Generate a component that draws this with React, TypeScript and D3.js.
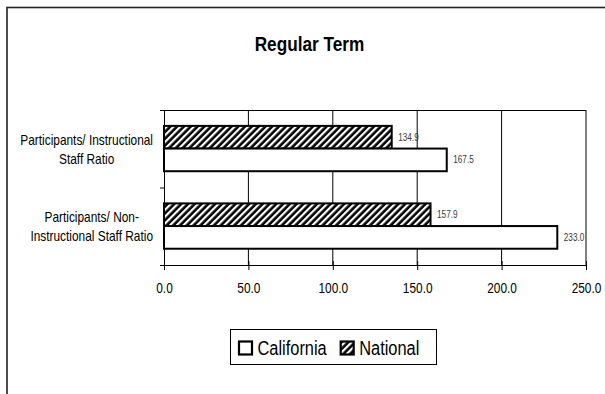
import React, { useEffect, useRef } from 'react';
import * as d3 from 'd3';

const categories = ['Instructional', 'Non-Instructional'];
const categoryLines = [
  ['Participants/ Instructional', 'Staff Ratio'],
  ['Participants/ Non-', 'Instructional Staff Ratio'],
];
const seriesNames = ['California', 'National'];
const californiaValues = [167.5, 233.0];
const nationalValues = [134.9, 157.9];
const xTicks = [0, 50, 100, 150, 200, 250];
const title = 'Regular Term';

const svgWidth = 605;
const svgHeight = 394;

const App: React.FC = () => {
  const svgRef = useRef<SVGSVGElement | null>(null);

  useEffect(() => {
    const svg = d3.select(svgRef.current);
    svg.selectAll('*').remove();

    const font = "'Liberation Sans Narrow','Arial Narrow','Liberation Sans',Arial,sans-serif";

    // calibrate: the original uses a narrow face, squeeze if we only have a normal one
    const probe = svg.append('text').attr('font-family', font).attr('font-size', 14.5).text('Participants/ Instructional');
    const pw = (probe.node() as SVGTextElement).getComputedTextLength();
    probe.remove();
    const k = pw > 0 ? Math.min(1, 132.7 / pw) : 1;
    const squeeze = (sel: d3.Selection<any, any, any, any>) =>
      sel.each(function (this: SVGTextElement) {
        const w = this.getComputedTextLength() * k;
        d3.select(this).attr('textLength', w).attr('lengthAdjust', 'spacingAndGlyphs').attr('data-w', w);
      });

    // hatch pattern
    const pat = svg
      .append('defs')
      .append('pattern')
      .attr('id', 'hatch')
      .attr('patternUnits', 'userSpaceOnUse')
      .attr('width', 4.8)
      .attr('height', 4.8)
      .attr('patternTransform', 'rotate(45)');
    pat.append('rect').attr('width', 4.8).attr('height', 4.8).attr('fill', '#000');
    pat.append('rect').attr('width', 2.2).attr('height', 4.8).attr('fill', '#fff');

    // outer frame (cut off at right/bottom)
    svg
      .append('rect')
      .attr('x', 7)
      .attr('y', 7.5)
      .attr('width', 800)
      .attr('height', 600)
      .attr('fill', 'none')
      .attr('stroke', '#222')
      .attr('stroke-width', 1.6);

    const plot = { left: 164, right: 586, top: 110, bottom: 265 };

    const x = d3.scaleLinear().domain([0, 250]).range([plot.left, plot.right]);
    const y = d3.scaleBand().domain(categories).range([plot.top, plot.bottom]);
    const bw = y.bandwidth();
    const sub = d3
      .scaleBand()
      .domain(['National', 'California'])
      .range([bw * 0.205, bw * 0.79]);

    // title
    squeeze(
      svg
        .append('text')
        .attr('x', 309.5)
        .attr('y', 51)
        .attr('text-anchor', 'middle')
        .attr('font-family', font)
        .attr('font-size', 21)
        .attr('font-weight', 'bold')
        .attr('fill', '#000')
        .text(title)
    );

    // gridlines
    svg
      .append('g')
      .selectAll('line')
      .data(xTicks.slice(1))
      .join('line')
      .attr('x1', (d) => x(d))
      .attr('x2', (d) => x(d))
      .attr('y1', plot.top)
      .attr('y2', plot.bottom)
      .attr('stroke', '#000')
      .attr('stroke-width', 1);

    // top border of plot
    svg
      .append('line')
      .attr('x1', plot.left - 4)
      .attr('x2', plot.right)
      .attr('y1', plot.top + 0.5)
      .attr('y2', plot.top + 0.5)
      .attr('stroke', '#000');

    // bars
    const rows = categories.map((c, i) => ({
      cat: c,
      vals: [
        { s: 'National', v: nationalValues[i] },
        { s: 'California', v: californiaValues[i] },
      ],
    }));
    const gBars = svg.append('g');
    rows.forEach((r) => {
      const y0 = y(r.cat) as number;
      r.vals.forEach((d) => {
        gBars
          .append('rect')
          .attr('x', x(0))
          .attr('y', y0 + (sub(d.s) as number))
          .attr('width', x(d.v) - x(0))
          .attr('height', sub.bandwidth())
          .attr('fill', d.s === 'National' ? 'url(#hatch)' : '#fff')
          .attr('stroke', '#000')
          .attr('stroke-width', 2);
        squeeze(
          gBars
            .append('text')
            .attr('x', x(d.v) + 6.5)
            .attr('y', y0 + (sub(d.s) as number) + sub.bandwidth() / 2 + 3.6)
            .attr('font-family', font)
            .attr('font-size', 10)
            .attr('fill', '#3a3a3a')
            .text(d3.format('.1f')(d.v))
        );
      });
    });

    // x axis
    const xAxis = svg
      .append('g')
      .attr('transform', `translate(0,${plot.bottom})`)
      .call(d3.axisBottom(x).tickValues(xTicks).tickSizeOuter(0).tickFormat(d3.format('.1f') as any));
    xAxis.select('.domain').remove();
    xAxis
      .append('line')
      .attr('x1', plot.left - 4)
      .attr('x2', plot.right)
      .attr('y1', 0.5)
      .attr('y2', 0.5)
      .attr('stroke', '#000');
    xAxis.selectAll('.tick line').attr('y1', -4).attr('y2', 5).attr('stroke', '#000');
    const tickText = xAxis
      .selectAll<SVGTextElement, number>('.tick text')
      .attr('y', 27.5)
      .attr('dy', null)
      .attr('font-family', font)
      .attr('font-size', 14.5)
      .attr('fill', '#000');
    squeeze(tickText);

    // y axis
    svg
      .append('line')
      .attr('x1', plot.left + 0.5)
      .attr('x2', plot.left + 0.5)
      .attr('y1', plot.top)
      .attr('y2', plot.bottom)
      .attr('stroke', '#000');
    const bounds = [...categories.map((c) => y(c) as number), plot.bottom];
    svg
      .append('g')
      .selectAll('line')
      .data(bounds)
      .join('line')
      .attr('x1', plot.left - 4)
      .attr('x2', plot.left)
      .attr('y1', (d) => d + 0.5)
      .attr('y2', (d) => d + 0.5)
      .attr('stroke', '#000');

    // category labels (lines centred within a right-aligned box)
    categories.forEach((c, i) => {
      const cy = (y(c) as number) + bw / 2;
      const g = svg.append('g');
      const texts = g
        .selectAll('text')
        .data(categoryLines[i])
        .join('text')
        .attr('y', (_, j) => cy - 3.8 + j * 18.8)
        .attr('text-anchor', 'middle')
        .attr('font-family', font)
        .attr('font-size', 14.5)
        .attr('fill', '#000')
        .text((d) => d);
      squeeze(texts);
      let maxW = 0;
      texts.each(function () {
        maxW = Math.max(maxW, +(this as SVGTextElement).getAttribute('data-w')!);
      });
      texts.attr('x', 153 - maxW / 2);
    });

    // legend
    const legend = svg.append('g');
    legend
      .append('rect')
      .attr('x', 230.5)
      .attr('y', 329.5)
      .attr('width', 206)
      .attr('height', 35)
      .attr('fill', '#fff')
      .attr('stroke', '#000')
      .attr('stroke-width', 1);
    let lx = 239;
    seriesNames.forEach((s) => {
      legend
        .append('rect')
        .attr('x', lx)
        .attr('y', 341.5)
        .attr('width', 13)
        .attr('height', 13)
        .attr('fill', s === 'National' ? 'url(#hatch)' : '#fff')
        .attr('stroke', '#000')
        .attr('stroke-width', 2.2);
      const t = legend
        .append('text')
        .attr('x', lx + 18.5)
        .attr('y', 354.5)
        .attr('font-family', font)
        .attr('font-size', 20)
        .attr('fill', '#000')
        .text(s);
      squeeze(t);
      lx += 18.5 + +(t.attr('data-w') as string) + 14;
    });
  }, []);

  return (
    <svg
      ref={svgRef}
      width={svgWidth}
      height={svgHeight}
      style={{ position: 'absolute', left: 0, top: 0, background: '#fff' }}
    />
  );
};

export default App;
